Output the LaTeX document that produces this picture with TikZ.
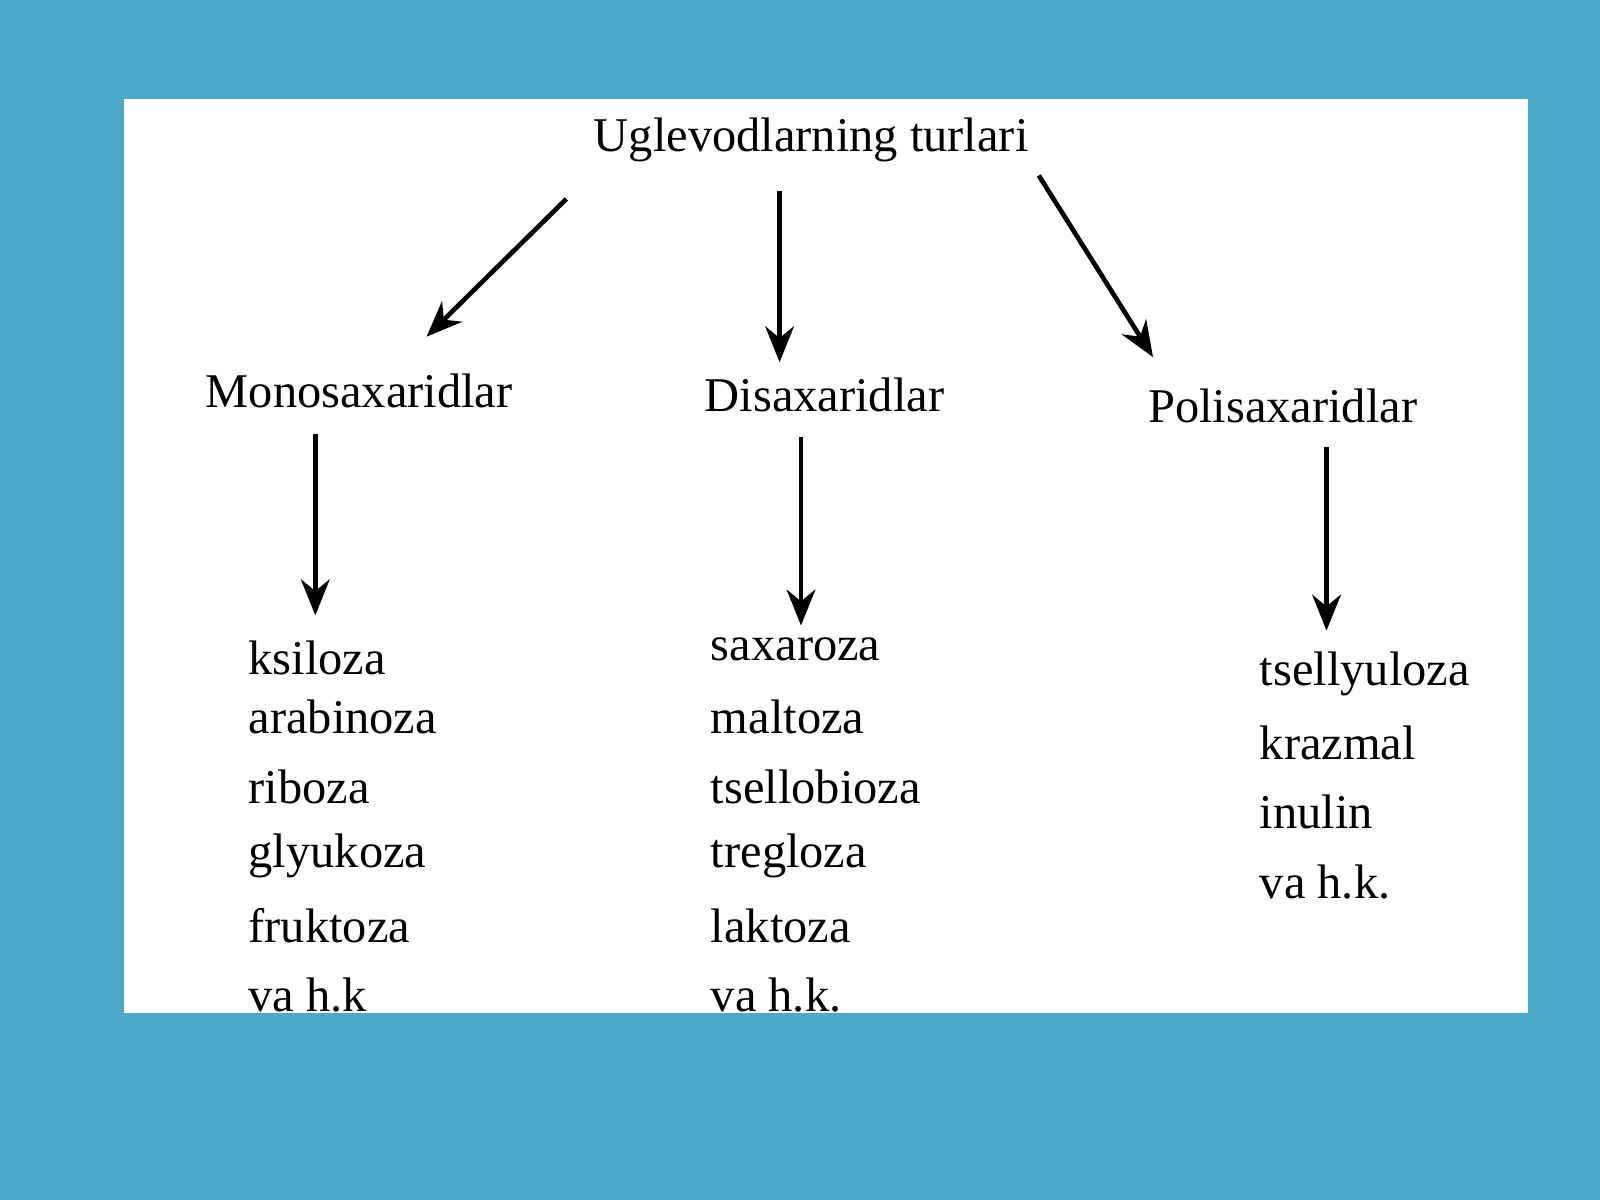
\documentclass[tikz,border=0pt]{standalone}
\usepackage{fontspec}
\setmainfont{Liberation Serif}
\usetikzlibrary{arrows.meta}
\begin{document}
\begin{tikzpicture}[x=0.01cm,y=-0.01cm,
  lbl/.style={font=\fontsize{13.5pt}{16pt}\selectfont,inner sep=0pt},
  item/.style={font=\fontsize{13.5pt}{16pt}\selectfont,inner sep=0pt,anchor=west},
  arr/.style={line width=1.3pt,-{Stealth[length=10pt,width=8pt]}}]
\fill[fill={rgb,255:red,75;green,170;blue,200}] (0,0) rectangle (1568,1176);
\fill[white] (122,97) rectangle (1497,993);
\node[lbl] (t) at (795,137) {Uglevodlarning turlari};
\node[lbl] (m) at (352,383) {Monosaxaridlar};
\node[lbl] (d) at (808,387) {Disaxaridlar};
\node[lbl] (p) at (1257,398) {Polisaxaridlar};
\coordinate (t1) at (555,195); \coordinate (m1) at (418,330);
\coordinate (t2) at (764,187); \coordinate (d1) at (764,355);
\coordinate (t3) at (1018,172); \coordinate (p1) at (1130,350);
\coordinate (m2) at (309,425); \coordinate (ml) at (309,603);
\coordinate (d2) at (785,428); \coordinate (dl) at (785,613);
\coordinate (p2) at (1300,438); \coordinate (pl) at (1300,618);
\draw[arr] (t1) -- (m1);
\draw[arr] (t2) -- (d1);
\draw[arr] (t3) -- (p1);
\draw[arr] (m2) -- (ml);
\draw[arr] (d2) -- (dl);
\draw[arr] (p2) -- (pl);
\begin{scope}
\clip (122,97) rectangle (1497,993);
\node[item] (a1) at (243,645) {ksiloza};
\node[item] (a2) at (243,703) {arabinoza};
\node[item] (a3) at (243,771) {riboza};
\node[item] (a4) at (243,839) {glyukoza};
\node[item] (a5) at (243,907) {fruktoza};
\node[item] (a6) at (243,975) {va h.k};
\node[item] (b1) at (696,636) {saxaroza};
\node[item] (b2) at (696,703) {maltoza};
\node[item] (b3) at (696,771) {tsellobioza};
\node[item] (b4) at (696,839) {tregloza};
\node[item] (b5) at (696,907) {laktoza};
\node[item] (b6) at (696,975) {va h.k.};
\node[item] (c1) at (1234,660) {tsellyuloza};
\node[item] (c2) at (1234,728) {krazmal};
\node[item] (c3) at (1234,796) {inulin};
\node[item] (c4) at (1234,864) {va h.k.};
\end{scope}
\end{tikzpicture}
\end{document}
